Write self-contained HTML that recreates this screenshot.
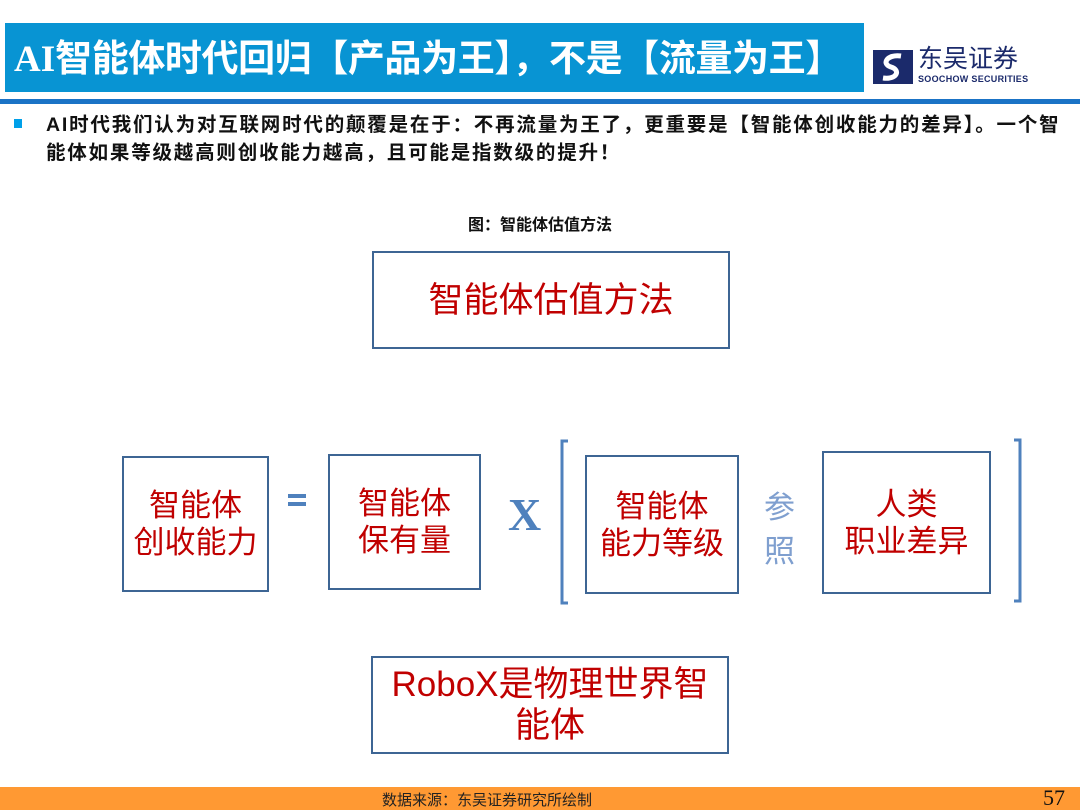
<!DOCTYPE html>
<html><head><meta charset="utf-8"><style>
body{margin:0;width:1080px;height:810px;position:relative;background:#fff;font-family:"Liberation Sans","Noto Sans CJK SC",sans-serif;overflow:hidden}
.a{position:absolute}
.box{position:absolute;border:2.5px solid #3d6594;box-sizing:border-box;display:flex;align-items:center;justify-content:center;text-align:center;color:#c00000;font-size:31px;line-height:37px}
</style></head><body>
<div class="a" style="left:5px;top:23px;width:859px;height:69px;background:#0894d3"></div>
<div class="a" style="left:14px;top:35px;color:#fff;font-size:37px;font-weight:bold;white-space:nowrap;font-family:'Liberation Serif','Noto Sans CJK SC',sans-serif;line-height:48px">AI<span style="font-family:'Liberation Sans','Noto Sans CJK SC',sans-serif;letter-spacing:-0.4px">智能体时代回归【产品为王】，不是【流量为王】</span></div>
<svg class="a" style="left:873px;top:50px" width="40" height="34"><rect x="0" y="0" width="40" height="34" fill="#1b2a6b"/><path d="M28 6 C14 4 8 14 18 17 C28 20 24 30 10 28" stroke="#fff" stroke-width="5" fill="none"/></svg>
<div class="a" style="left:918px;top:44px;color:#1b2a6b;font-size:25px;line-height:30px">东吴证券</div>
<div class="a" style="left:918px;top:74px;color:#1b2a6b;font-size:9px;font-weight:bold;letter-spacing:0.3px">SOOCHOW SECURITIES</div>
<div class="a" style="left:0;top:99px;width:1080px;height:5px;background:#1a73c6"></div>
<div class="a" style="left:14px;top:119px;width:8px;height:9px;background:#00a0e9"></div>
<div class="a" style="left:46px;top:111px;width:1030px;font-size:19.5px;letter-spacing:1.8px;font-weight:bold;line-height:28px;color:#111;white-space:nowrap">AI时代我们认为对互联网时代的颠覆是在于：不再流量为王了，更重要是【智能体创收能力的差异】。一个智<br>能体如果等级越高则创收能力越高，且可能是指数级的提升！</div>
<div class="a" style="left:0;width:1080px;top:211px;text-align:center;font-size:16px;font-weight:bold;color:#111">图：智能体估值方法</div>
<div class="box" style="left:372px;top:251px;width:358px;height:98px;font-size:35px">智能体估值方法</div>
<div class="box" style="left:122px;top:456px;width:147px;height:136px">智能体<br>创收能力</div>
<div class="box" style="left:328px;top:454px;width:153px;height:136px">智能体<br>保有量</div>
<div class="box" style="left:585px;top:455px;width:154px;height:139px">智能体<br>能力等级</div>
<div class="box" style="left:822px;top:451px;width:169px;height:143px">人类<br>职业差异</div>
<div class="box" style="left:371px;top:656px;width:358px;height:98px;font-size:35px;line-height:41px">RoboX是物理世界智<br>能体</div>
<div class="a" style="left:288px;top:494px;width:18px;height:4px;background:#4f81bd"></div>
<div class="a" style="left:288px;top:502px;width:18px;height:4px;background:#4f81bd"></div>
<div class="a" style="left:508px;top:490px;font-family:'Liberation Serif',serif;font-weight:bold;font-size:46px;color:#4f81bd;line-height:50px">X</div>
<div class="a" style="left:764px;top:486px;font-size:31px;line-height:44px;color:#7f9fcf;width:34px">参<br>照</div>
<svg class="a" style="left:0;top:0" width="1080" height="810"><path d="M568 441 H562 V603 H568" stroke="#4f81bd" stroke-width="3" fill="none"/><path d="M1014 440 H1020 V601 H1014" stroke="#4f81bd" stroke-width="3" fill="none"/></svg>
<div class="a" style="left:0;top:787px;width:1080px;height:23px;background:#ff9933"></div>
<div class="a" style="left:382px;top:789px;font-size:15px;color:#222">数据来源：东吴证券研究所绘制</div>
<div class="a" style="left:1043px;top:785px;font-family:'Liberation Serif',serif;font-size:22px;color:#111">57</div>
</body></html>
